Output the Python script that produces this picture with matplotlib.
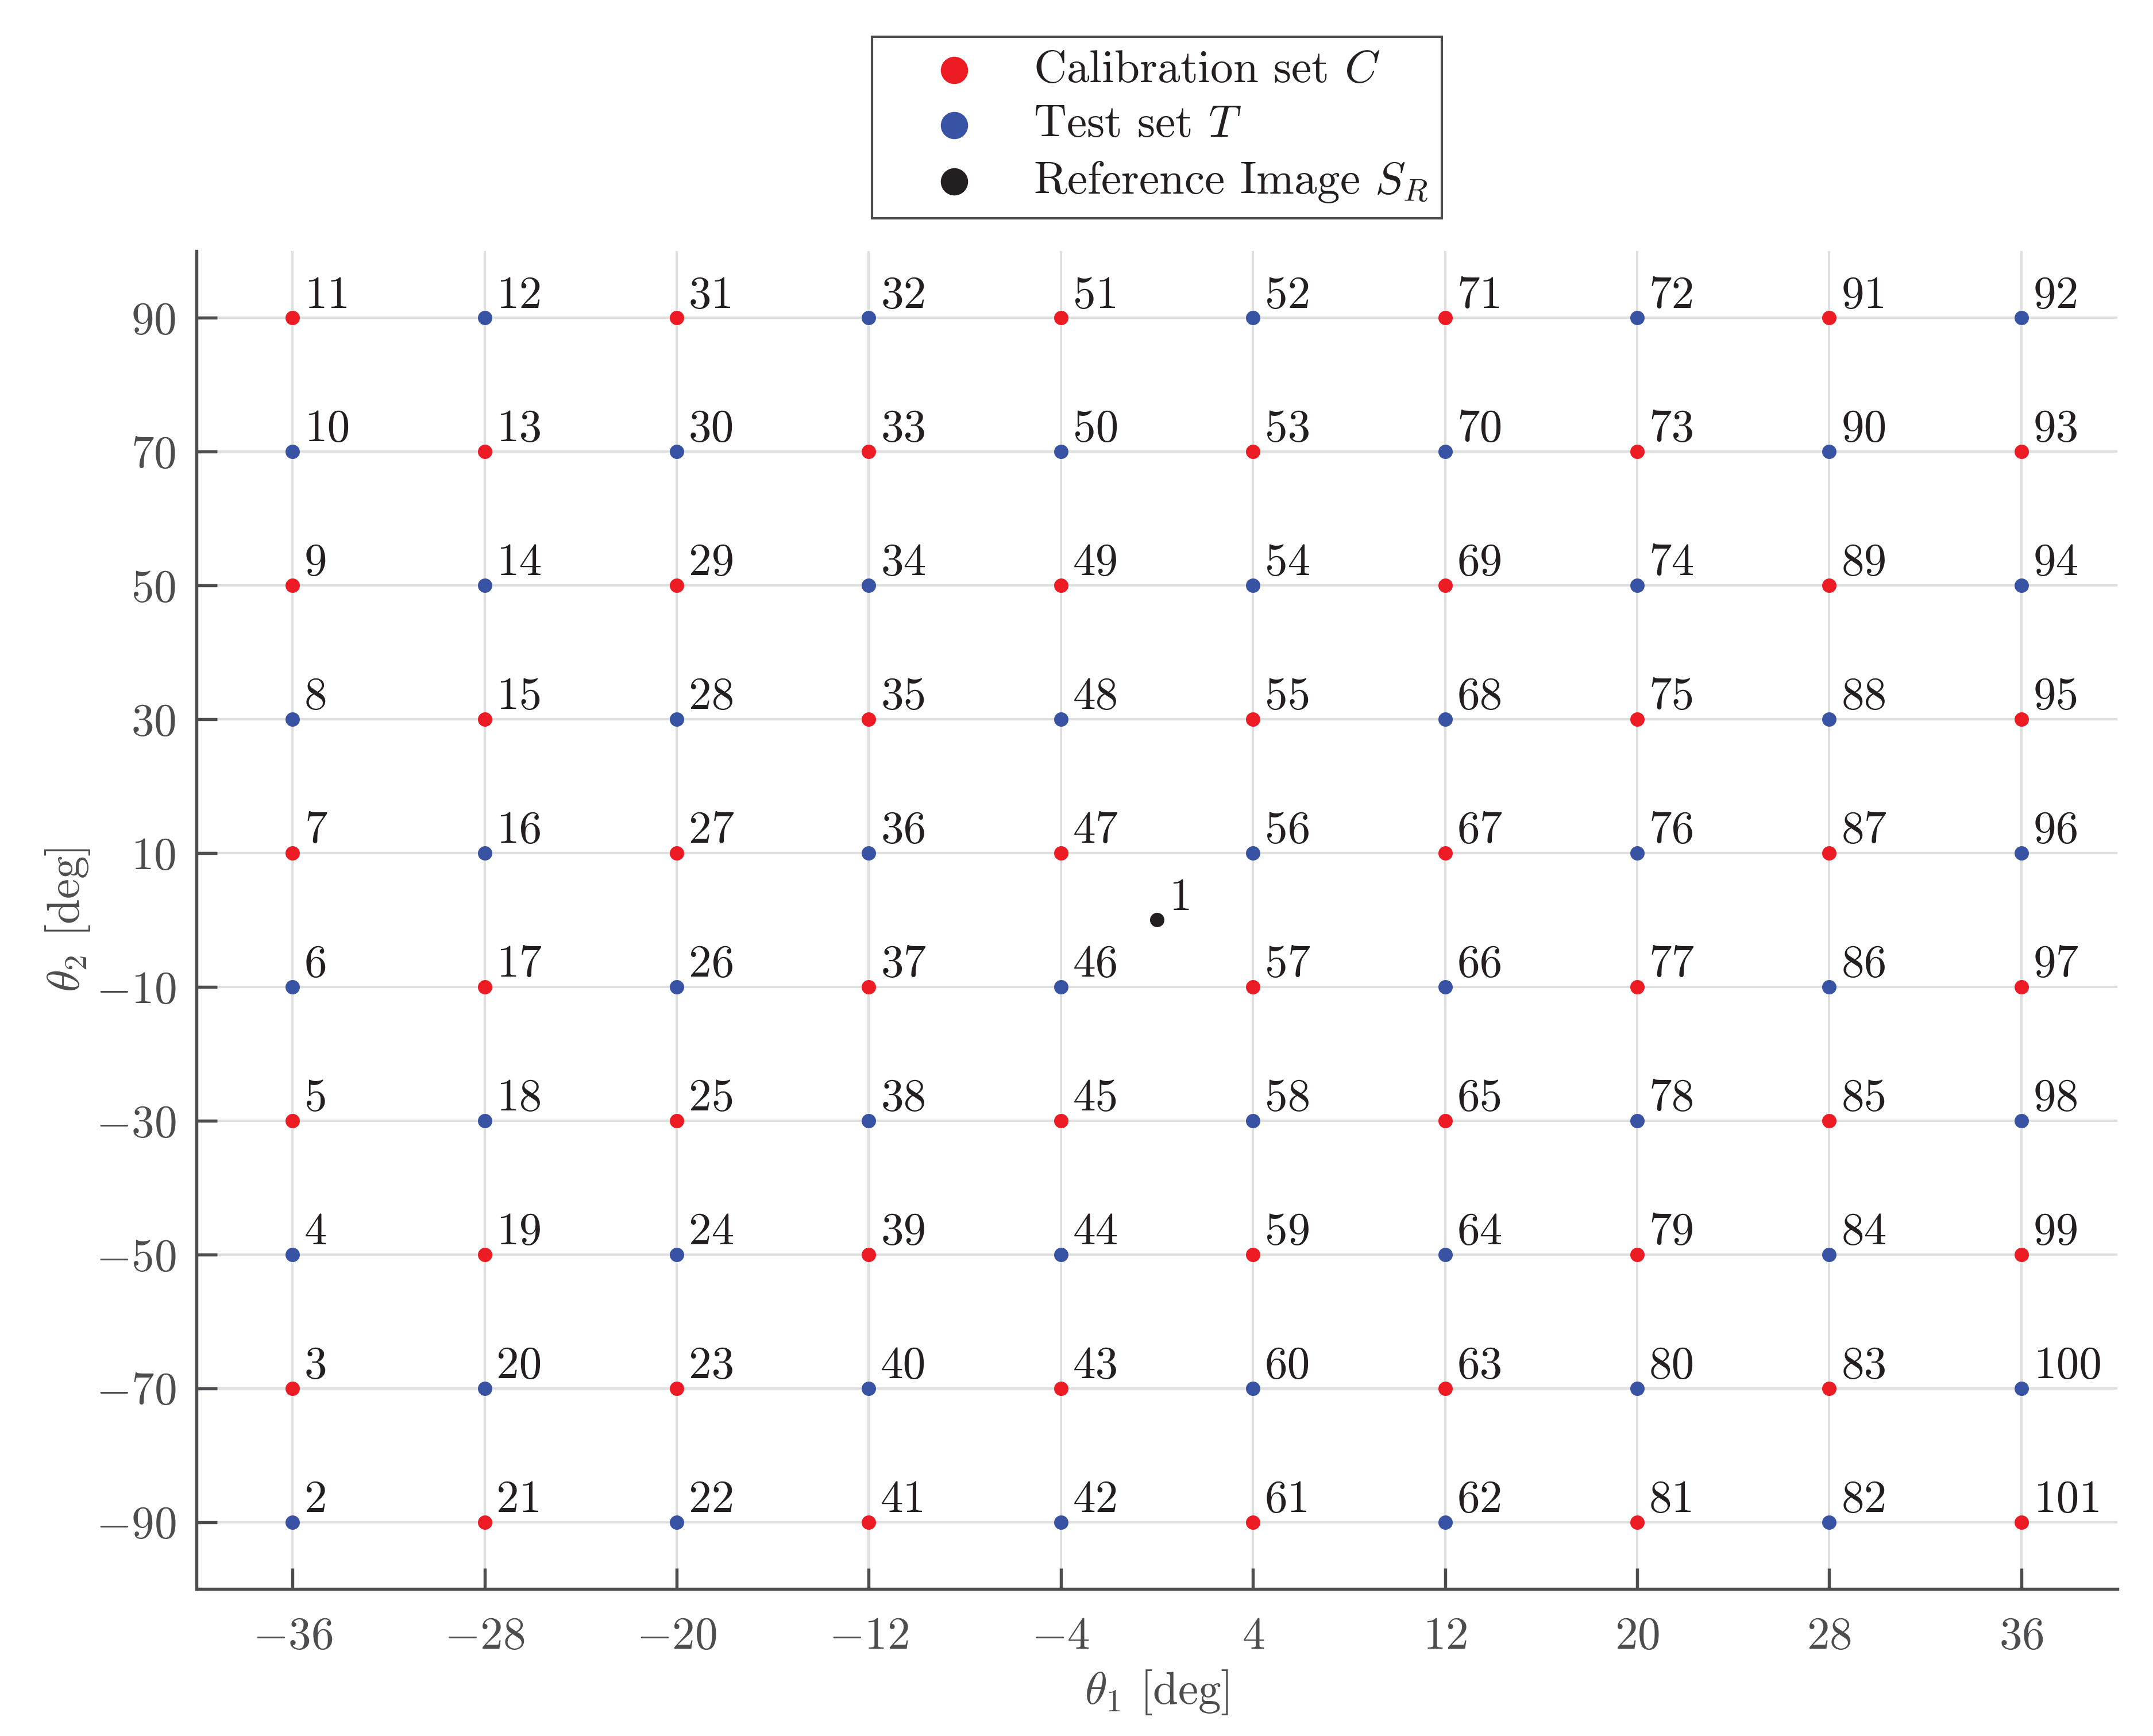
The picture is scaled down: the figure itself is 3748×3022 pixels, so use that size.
import numpy as np
import matplotlib.pyplot as plt

plt.rcParams['font.family'] = 'serif'
plt.rcParams['font.serif'] = ['cmr10']
plt.rcParams['mathtext.fontset'] = 'cm'
plt.rcParams['axes.formatter.use_mathtext'] = True

# grid of view angles
theta1 = [-36, -28, -20, -12, -4, 4, 12, 20, 28, 36]
theta2 = [-90, -70, -50, -30, -10, 10, 30, 50, 70, 90]

# image ids, one list per theta1 column, listed from theta2 = -90 up to 90
ids_by_column = [
    [2, 3, 4, 5, 6, 7, 8, 9, 10, 11],
    [21, 20, 19, 18, 17, 16, 15, 14, 13, 12],
    [22, 23, 24, 25, 26, 27, 28, 29, 30, 31],
    [41, 40, 39, 38, 37, 36, 35, 34, 33, 32],
    [42, 43, 44, 45, 46, 47, 48, 49, 50, 51],
    [61, 60, 59, 58, 57, 56, 55, 54, 53, 52],
    [62, 63, 64, 65, 66, 67, 68, 69, 70, 71],
    [81, 80, 79, 78, 77, 76, 75, 74, 73, 72],
    [82, 83, 84, 85, 86, 87, 88, 89, 90, 91],
    [101, 100, 99, 98, 97, 96, 95, 94, 93, 92],
]

calibration_ids = [3, 5, 7, 9, 11, 13, 15, 17, 19, 21, 23, 25, 27, 29, 31,
                   33, 35, 37, 39, 41, 43, 45, 47, 49, 51, 53, 55, 57, 59,
                   61, 63, 65, 67, 69, 71, 73, 75, 77, 79, 81, 83, 85, 87,
                   89, 91, 93, 95, 97, 99, 101]

ref_theta1 = 0
ref_theta2 = 0
ref_id = 1

red = '#ed1c24'
blue = '#3953a4'
black = '#231f20'
axis_grey = '#4d4d4f'

cal_x, cal_y, test_x, test_y = [], [], [], []
for t1, col in zip(theta1, ids_by_column):
    for t2, pid in zip(theta2, col):
        if pid in calibration_ids:
            cal_x.append(t1)
            cal_y.append(t2)
        else:
            test_x.append(t1)
            test_y.append(t2)

fig = plt.figure(figsize=(3748 / 300, 3022 / 300), dpi=300)
ax = fig.add_axes([342 / 3748, 1 - 2766 / 3022, (3686 - 342) / 3748, (2766 - 437) / 3022])

ax.scatter(cal_x, cal_y, s=36, color=red, lw=0, zorder=3, label=r'Calibration set $C$')
ax.scatter(test_x, test_y, s=36, color=blue, lw=0, zorder=3, label=r'Test set $T$')
ax.scatter([ref_theta1], [ref_theta2], s=36, color=black, lw=0, zorder=3,
           label=r'Reference Image $S_R$')

for t1, col in zip(theta1, ids_by_column):
    for t2, pid in zip(theta2, col):
        ax.annotate(str(pid), (t1, t2), xytext=(5, 4.3), textcoords='offset points',
                    fontsize=19, color=black, ha='left', va='baseline')
ax.annotate(str(ref_id), (ref_theta1, ref_theta2), xytext=(5, 4.3), textcoords='offset points',
            fontsize=19, color=black, ha='left', va='baseline')

ax.set_xlim(-40, 40)
ax.set_ylim(-100, 100)
ax.set_xticks(theta1)
ax.set_yticks(theta2)
ax.grid(True, color='#dfdfe0', lw=1.0)
ax.set_axisbelow(True)

for side in ['top', 'right']:
    ax.spines[side].set_visible(False)
for side in ['left', 'bottom']:
    ax.spines[side].set_color(axis_grey)
    ax.spines[side].set_linewidth(1.3)

ax.tick_params(direction='in', length=8.6, width=1.3, color=axis_grey,
               labelcolor=axis_grey, labelsize=19)
ax.tick_params(axis='x', pad=11.5)
ax.tick_params(axis='y', pad=8.6)

ax.set_xlabel(r'$\theta_1$ [deg]', fontsize=19, color=axis_grey, labelpad=4.5)
ax.set_ylabel(r'$\theta_2$ [deg]', fontsize=19, color=axis_grey, labelpad=1.5)

leg = ax.legend(loc='lower center', bbox_to_anchor=(0.5, 1.0245), frameon=True,
                fancybox=False, edgecolor=axis_grey, framealpha=1, markerscale=1.9,
                scatterpoints=1, borderpad=0.3, borderaxespad=0, handlelength=3.0,
                handletextpad=0.25, labelspacing=0.3, fontsize=19)
leg.get_frame().set_linewidth(1.0)
for t in leg.get_texts():
    t.set_color(black)

fig.savefig('out.png', dpi=300)
